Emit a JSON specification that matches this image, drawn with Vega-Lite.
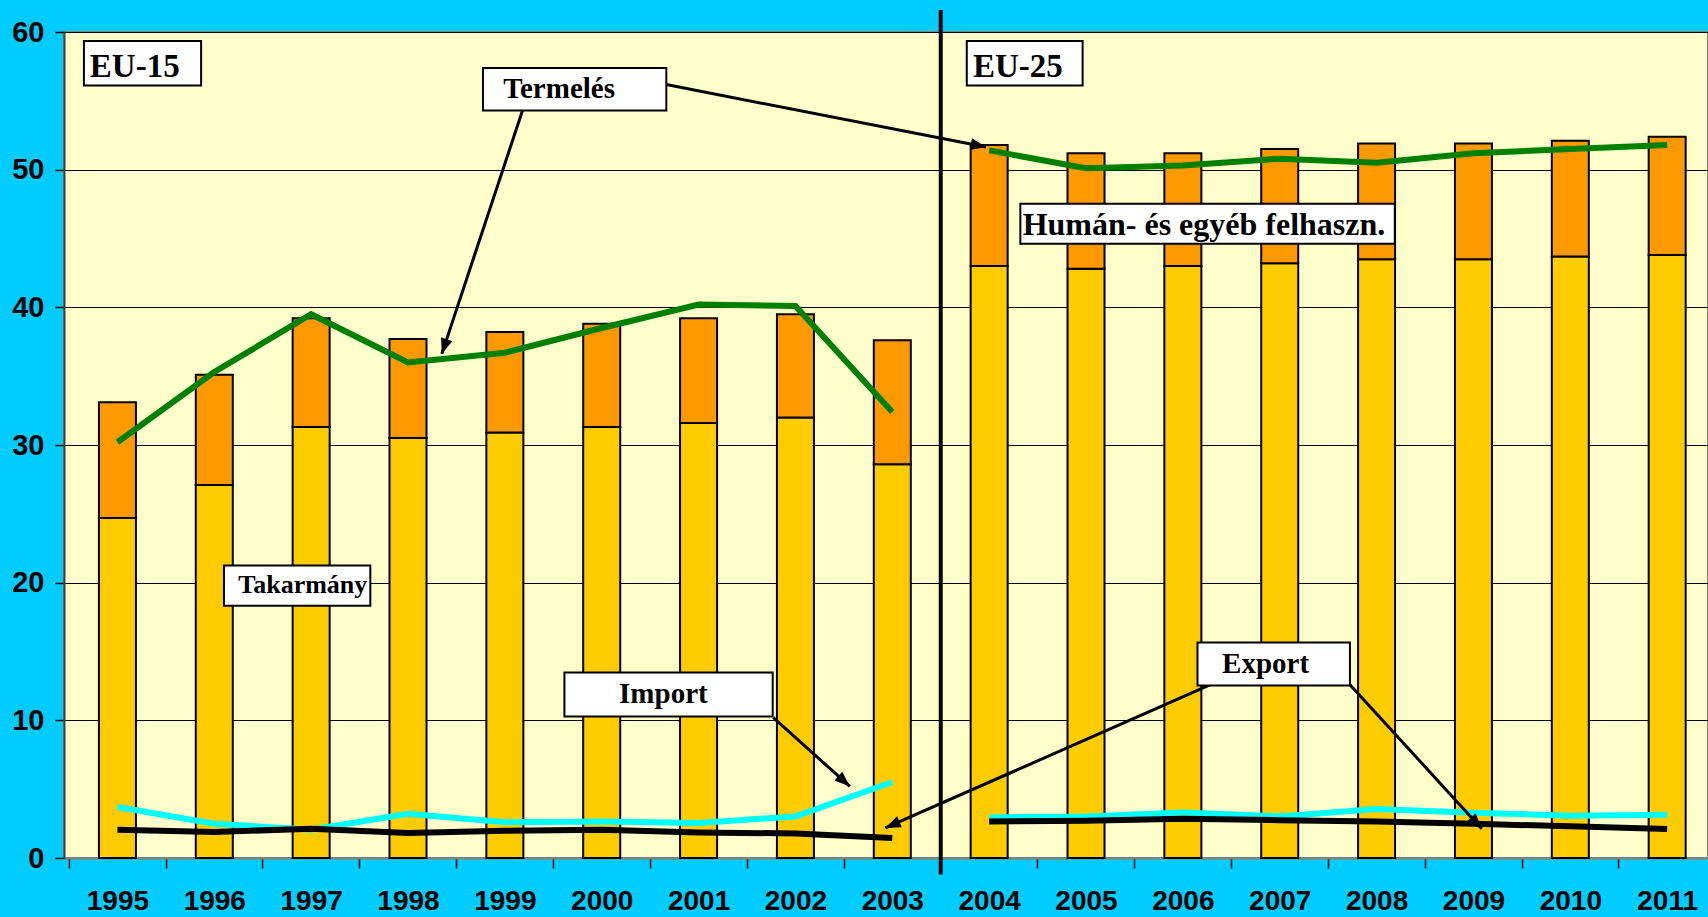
{
  "$schema": "https://vega.github.io/schema/vega-lite/v6.json",
  "width": 1644,
  "height": 826,
  "autosize": {"type": "none"},
  "padding": {"left": 64, "top": 32, "right": 0, "bottom": 59},
  "background": "#00CCFF",
  "config": {"view": {"fill": "#FFFFCC", "stroke": "#808080", "strokeWidth": 2}},
  "datasets": {
    "main": [
      {"year": 1995, "period": "EU-15", "takarmany": 24.7, "human": 8.4, "termeles": 30.2, "import": 3.7, "export": 2.06},
      {"year": 1996, "period": "EU-15", "takarmany": 27.1, "human": 8.0, "termeles": 35.3, "import": 2.49, "export": 1.89},
      {"year": 1997, "period": "EU-15", "takarmany": 31.3, "human": 7.9, "termeles": 39.5, "import": 2.06, "export": 2.13},
      {"year": 1998, "period": "EU-15", "takarmany": 30.5, "human": 7.2, "termeles": 36.0, "import": 3.22, "export": 1.82},
      {"year": 1999, "period": "EU-15", "takarmany": 30.9, "human": 7.3, "termeles": 36.7, "import": 2.59, "export": 1.98},
      {"year": 2000, "period": "EU-15", "takarmany": 31.3, "human": 7.5, "termeles": 38.5, "import": 2.66, "export": 2.05},
      {"year": 2001, "period": "EU-15", "takarmany": 31.6, "human": 7.6, "termeles": 40.2, "import": 2.54, "export": 1.86},
      {"year": 2002, "period": "EU-15", "takarmany": 32.0, "human": 7.5, "termeles": 40.1, "import": 3.02, "export": 1.78},
      {"year": 2003, "period": "EU-15", "takarmany": 28.6, "human": 9.0, "termeles": 32.4, "import": 5.52, "export": 1.45},
      {"year": 2004, "period": "EU-25", "takarmany": 43.0, "human": 8.8, "termeles": 51.4, "import": 2.95, "export": 2.66},
      {"year": 2005, "period": "EU-25", "takarmany": 42.8, "human": 8.4, "termeles": 50.1, "import": 3.02, "export": 2.71},
      {"year": 2006, "period": "EU-25", "takarmany": 43.0, "human": 8.2, "termeles": 50.3, "import": 3.31, "export": 2.85},
      {"year": 2007, "period": "EU-25", "takarmany": 43.2, "human": 8.3, "termeles": 50.8, "import": 3.02, "export": 2.75},
      {"year": 2008, "period": "EU-25", "takarmany": 43.5, "human": 8.4, "termeles": 50.5, "import": 3.56, "export": 2.66},
      {"year": 2009, "period": "EU-25", "takarmany": 43.5, "human": 8.4, "termeles": 51.2, "import": 3.29, "export": 2.49},
      {"year": 2010, "period": "EU-25", "takarmany": 43.7, "human": 8.4, "termeles": 51.5, "import": 3.07, "export": 2.3},
      {"year": 2011, "period": "EU-25", "takarmany": 43.8, "human": 8.6, "termeles": 51.8, "import": 3.14, "export": 2.1}
    ]
  },
  "layer": [
    {
      "data": {"name": "main"},
      "transform": [{"fold": ["takarmany", "human"], "as": ["kind", "amount"]}],
      "mark": {"type": "bar", "size": 37, "stroke": "black", "strokeWidth": 2},
      "encoding": {
        "x": {
          "field": "year", "type": "quantitative", "title": null,
          "scale": {"domain": [1994.5, 2011.37], "nice": false, "zero": false},
          "axis": {
            "title": null, "values": [1995, 1996, 1997, 1998, 1999, 2000, 2001, 2002, 2003, 2004, 2005, 2006, 2007, 2008, 2009, 2010, 2011],
            "format": "d", "tickOffset": -48.7, "labelOffset": 48.7, "ticks": true, "tickSize": 10, "tickColor": "black", "tickWidth": 1.5,
            "domainColor": "#808080", "domainWidth": 2, "labelFont": "Liberation Sans", "labelFontWeight": "bold", "labelFontSize": 28,
            "labelColor": "black", "labelBaseline": "alphabetic", "labelPadding": 41, "labelFlush": false, "labelOverlap": false,
            "labelBound": false, "grid": false
          }
        },
        "y": {
          "field": "amount", "type": "quantitative", "stack": "zero", "title": null,
          "scale": {"domain": [0, 60], "nice": false},
          "axis": {
            "title": null, "values": [0, 10, 20, 30, 40, 50, 60], "grid": true, "gridColor": "black", "gridWidth": 1, "gridOpacity": 1,
            "tickSize": 9, "tickColor": "black", "tickWidth": 1.5, "domainColor": "#404040", "domainWidth": 2,
            "labelFont": "Liberation Sans", "labelFontWeight": "bold", "labelFontSize": 29, "labelColor": "black",
            "labelPadding": 11, "labelFlush": false, "labelOverlap": false, "labelBound": false
          }
        },
        "fill": {"field": "kind", "type": "nominal", "scale": {"domain": ["takarmany", "human"], "range": ["#FFCC00", "#FF9900"]}, "legend": null},
        "order": {"field": "kind", "sort": "descending"}
      }
    },
    {
      "data": {"name": "main"},
      "mark": {"type": "line", "color": "#008000", "strokeWidth": 6},
      "encoding": {
        "x": {"field": "year", "type": "quantitative", "title": null},
        "y": {"field": "termeles", "type": "quantitative", "title": null},
        "detail": {"field": "period"}
      }
    },
    {
      "data": {"name": "main"},
      "mark": {"type": "line", "color": "#00FFFF", "strokeWidth": 6},
      "encoding": {
        "x": {"field": "year", "type": "quantitative", "title": null},
        "y": {"field": "import", "type": "quantitative", "title": null},
        "detail": {"field": "period"}
      }
    },
    {
      "data": {"name": "main"},
      "mark": {"type": "line", "color": "#000000", "strokeWidth": 6},
      "encoding": {
        "x": {"field": "year", "type": "quantitative", "title": null},
        "y": {"field": "export", "type": "quantitative", "title": null},
        "detail": {"field": "period"}
      }
    },
    {
      "data": {"values": [{}]},
      "mark": {"type": "rule", "color": "black", "strokeWidth": 4},
      "encoding": {
        "x": {"datum": 2003.5, "type": "quantitative"},
        "y": {"datum": 61.6, "type": "quantitative"},
        "y2": {"datum": -1.2}
      }
    },
    {
      "data": {"values": [{}]},
      "mark": {"type": "rule", "color": "black", "strokeWidth": 3},
      "encoding": {
        "x": {"datum": 1999.184, "type": "quantitative"}, "y": {"datum": 54.34, "type": "quantitative"},
        "x2": {"datum": 1998.349}, "y2": {"datum": 36.62}
      }
    },
    {
      "data": {"values": [{}]},
      "mark": {"type": "rule", "color": "black", "strokeWidth": 3},
      "encoding": {
        "x": {"datum": 2000.667, "type": "quantitative"}, "y": {"datum": 56.18, "type": "quantitative"},
        "x2": {"datum": 2003.967}, "y2": {"datum": 51.64}
      }
    },
    {
      "data": {"values": [{}]},
      "mark": {"type": "rule", "color": "black", "strokeWidth": 3},
      "encoding": {
        "x": {"datum": 2001.772, "type": "quantitative"}, "y": {"datum": 10.19, "type": "quantitative"},
        "x2": {"datum": 2002.562}, "y2": {"datum": 5.2}
      }
    },
    {
      "data": {"values": [{}]},
      "mark": {"type": "rule", "color": "black", "strokeWidth": 3},
      "encoding": {
        "x": {"datum": 2006.285, "type": "quantitative"}, "y": {"datum": 12.59, "type": "quantitative"},
        "x2": {"datum": 2002.928}, "y2": {"datum": 2.18}
      }
    },
    {
      "data": {"values": [{}]},
      "mark": {"type": "rule", "color": "black", "strokeWidth": 3},
      "encoding": {
        "x": {"datum": 2007.725, "type": "quantitative"}, "y": {"datum": 12.59, "type": "quantitative"},
        "x2": {"datum": 2009.085}, "y2": {"datum": 2.13}
      }
    },
    {
      "data": {"values": [{}]},
      "mark": {"type": "point", "shape": "M0,0L-0.85,2.2L0.85,2.2Z", "filled": true, "color": "black", "opacity": 1, "size": 196, "angle": 198.45},
      "encoding": {"x": {"datum": 1998.349, "type": "quantitative"}, "y": {"datum": 36.62, "type": "quantitative"}}
    },
    {
      "data": {"values": [{}]},
      "mark": {"type": "point", "shape": "M0,0L-0.85,2.2L0.85,2.2Z", "filled": true, "color": "black", "opacity": 1, "size": 196, "angle": 100.96},
      "encoding": {"x": {"datum": 2003.967, "type": "quantitative"}, "y": {"datum": 51.64, "type": "quantitative"}}
    },
    {
      "data": {"values": [{}]},
      "mark": {"type": "point", "shape": "M0,0L-0.85,2.2L0.85,2.2Z", "filled": true, "color": "black", "opacity": 1, "size": 196, "angle": 131.7},
      "encoding": {"x": {"datum": 2002.562, "type": "quantitative"}, "y": {"datum": 5.2, "type": "quantitative"}}
    },
    {
      "data": {"values": [{}]},
      "mark": {"type": "point", "shape": "M0,0L-0.85,2.2L0.85,2.2Z", "filled": true, "color": "black", "opacity": 1, "size": 196, "angle": 246.35},
      "encoding": {"x": {"datum": 2002.928, "type": "quantitative"}, "y": {"datum": 2.18, "type": "quantitative"}}
    },
    {
      "data": {"values": [{}]},
      "mark": {"type": "point", "shape": "M0,0L-0.85,2.2L0.85,2.2Z", "filled": true, "color": "black", "opacity": 1, "size": 196, "angle": 137.36},
      "encoding": {"x": {"datum": 2009.085, "type": "quantitative"}, "y": {"datum": 2.13, "type": "quantitative"}}
    },
    {
      "data": {"values": [{}]},
      "mark": {"type": "rect", "fill": "white", "stroke": "black", "strokeWidth": 2},
      "encoding": {"x": {"datum": 1994.654, "type": "quantitative"}, "x2": {"datum": 1995.864}, "y": {"datum": 59.35, "type": "quantitative"}, "y2": {"datum": 56.11}}
    },
    {
      "data": {"values": [{}]},
      "mark": {"type": "rect", "fill": "white", "stroke": "black", "strokeWidth": 2},
      "encoding": {"x": {"datum": 2003.769, "type": "quantitative"}, "x2": {"datum": 2004.965}, "y": {"datum": 59.35, "type": "quantitative"}, "y2": {"datum": 56.11}}
    },
    {
      "data": {"values": [{}]},
      "mark": {"type": "rect", "fill": "white", "stroke": "black", "strokeWidth": 2},
      "encoding": {"x": {"datum": 1998.774, "type": "quantitative"}, "x2": {"datum": 2000.667}, "y": {"datum": 57.39, "type": "quantitative"}, "y2": {"datum": 54.29}}
    },
    {
      "data": {"values": [{}]},
      "mark": {"type": "rect", "fill": "white", "stroke": "black", "strokeWidth": 2},
      "encoding": {"x": {"datum": 2004.322, "type": "quantitative"}, "x2": {"datum": 2008.188}, "y": {"datum": 47.52, "type": "quantitative"}, "y2": {"datum": 44.62}}
    },
    {
      "data": {"values": [{}]},
      "mark": {"type": "rect", "fill": "white", "stroke": "black", "strokeWidth": 2},
      "encoding": {"x": {"datum": 1996.1, "type": "quantitative"}, "x2": {"datum": 1997.611}, "y": {"datum": 21.25, "type": "quantitative"}, "y2": {"datum": 18.32}}
    },
    {
      "data": {"values": [{}]},
      "mark": {"type": "rect", "fill": "white", "stroke": "black", "strokeWidth": 2},
      "encoding": {"x": {"datum": 1999.615, "type": "quantitative"}, "x2": {"datum": 2001.765}, "y": {"datum": 13.48, "type": "quantitative"}, "y2": {"datum": 10.28}}
    },
    {
      "data": {"values": [{}]},
      "mark": {"type": "rect", "fill": "white", "stroke": "black", "strokeWidth": 2},
      "encoding": {"x": {"datum": 2006.151, "type": "quantitative"}, "x2": {"datum": 2007.725}, "y": {"datum": 15.66, "type": "quantitative"}, "y2": {"datum": 12.53}}
    },
    {
      "data": {"values": [{}]},
      "mark": {"type": "text", "text": "EU-15", "font": "Liberation Serif", "fontWeight": "bold", "fontSize": 33, "align": "left", "baseline": "alphabetic", "color": "black"},
      "encoding": {"x": {"datum": 1994.715, "type": "quantitative"}, "y": {"datum": 56.74, "type": "quantitative"}}
    },
    {
      "data": {"values": [{}]},
      "mark": {"type": "text", "text": "EU-25", "font": "Liberation Serif", "fontWeight": "bold", "fontSize": 33, "align": "left", "baseline": "alphabetic", "color": "black"},
      "encoding": {"x": {"datum": 2003.833, "type": "quantitative"}, "y": {"datum": 56.74, "type": "quantitative"}}
    },
    {
      "data": {"values": [{}]},
      "mark": {"type": "text", "text": "Termelés", "font": "Liberation Serif", "fontWeight": "bold", "fontSize": 29, "align": "left", "baseline": "alphabetic", "color": "black"},
      "encoding": {"x": {"datum": 1998.984, "type": "quantitative"}, "y": {"datum": 55.19, "type": "quantitative"}}
    },
    {
      "data": {"values": [{}]},
      "mark": {"type": "text", "text": "Humán- és egyéb felhaszn.", "font": "Liberation Serif", "fontWeight": "bold", "fontSize": 32, "align": "left", "baseline": "alphabetic", "color": "black"},
      "encoding": {"x": {"datum": 2004.346, "type": "quantitative"}, "y": {"datum": 45.26, "type": "quantitative"}}
    },
    {
      "data": {"values": [{}]},
      "mark": {"type": "text", "text": "Takarmány", "font": "Liberation Serif", "fontWeight": "bold", "fontSize": 26, "align": "left", "baseline": "alphabetic", "color": "black"},
      "encoding": {"x": {"datum": 1996.247, "type": "quantitative"}, "y": {"datum": 19.24, "type": "quantitative"}}
    },
    {
      "data": {"values": [{}]},
      "mark": {"type": "text", "text": "Import", "font": "Liberation Serif", "fontWeight": "bold", "fontSize": 29, "align": "left", "baseline": "alphabetic", "color": "black"},
      "encoding": {"x": {"datum": 2000.179, "type": "quantitative"}, "y": {"datum": 11.26, "type": "quantitative"}}
    },
    {
      "data": {"values": [{}]},
      "mark": {"type": "text", "text": "Export", "font": "Liberation Serif", "fontWeight": "bold", "fontSize": 29, "align": "left", "baseline": "alphabetic", "color": "black"},
      "encoding": {"x": {"datum": 2006.405, "type": "quantitative"}, "y": {"datum": 13.43, "type": "quantitative"}}
    }
  ]
}
